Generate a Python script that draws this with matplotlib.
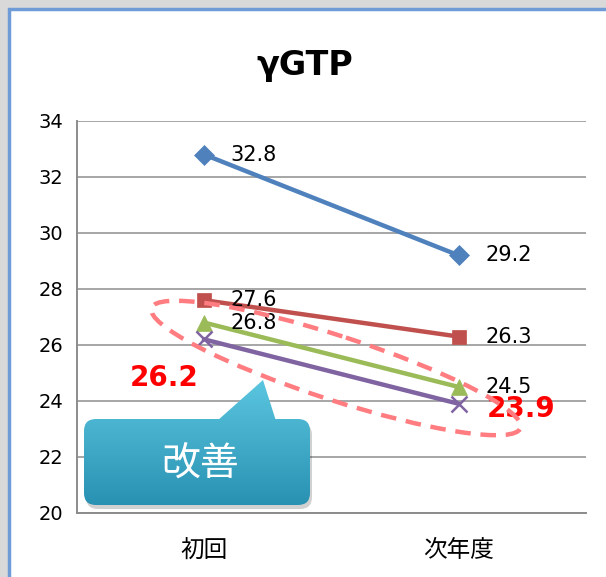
import matplotlib

matplotlib.use("Agg")

import matplotlib.pyplot as plt
import numpy as np
from matplotlib.patches import Ellipse, FancyBboxPatch, PathPatch, Rectangle
from matplotlib.path import Path

plt.rcParams["font.family"] = ["DejaVu Sans", "Noto Sans CJK JP"]

categories = ["初回", "次年度"]
series_a = [32.8, 29.2]
series_b = [27.6, 26.3]
series_c = [26.8, 24.5]
series_d = [26.2, 23.9]
y_ticks = [20, 22, 24, 26, 28, 30, 32, 34]
title = "γGTP"
callout_text = "改善"

W, H = 606, 577
fig = plt.figure(figsize=(W / 100, H / 100), dpi=100, facecolor="#d9d9d9")

# chart frame (white panel with blue border)
frame = Rectangle((9 / W, -0.1), 1.2, (H - 9) / H + 0.1, transform=fig.transFigure,
                  facecolor="white", edgecolor="#6f9bd6", linewidth=2.5, zorder=-5)
fig.patches.append(frame)

ax = fig.add_axes([77 / W, 1 - 513 / H, (586 - 77) / W, (513 - 121) / H])
ax.set_facecolor("none")
x = np.arange(len(categories))

styles = [
    (series_a, "#4f81bd", "D", 10),
    (series_b, "#c0504d", "s", 10),
    (series_c, "#9bbb59", "^", 11),
    (series_d, "#8064a2", "x", 11),
]
for vals, color, marker, ms in styles:
    ax.plot(x, vals, color=color, linewidth=3.2, marker=marker, markersize=ms,
            markeredgewidth=1.8 if marker == "x" else 0.5, markeredgecolor=color, zorder=3)

# plain data labels
for vals in (series_a, series_b, series_c):
    for xi, v in zip(x, vals):
        ax.annotate(f"{v}", (xi, v), xytext=(19, 0), textcoords="offset points",
                    ha="left", va="center", fontsize=15, color="black", zorder=4)

# highlighted labels
ax.annotate(f"{series_d[0]}", (x[0], series_d[0]), xytext=(-29, -28), textcoords="offset points",
            ha="center", va="center", fontsize=20, fontweight="bold", color="red", zorder=6)
ax.annotate(f"{series_d[1]}", (x[1], series_d[1]), xytext=(45, -4), textcoords="offset points",
            ha="center", va="center", fontsize=20, fontweight="bold", color="red", zorder=6)

ax.set_xlim(-0.5, 1.5)
ax.set_ylim(20, 34)
ax.set_xticks(x)
ax.set_yticks(y_ticks)
ax.tick_params(axis="y", length=0, labelsize=14, pad=10)
ax.tick_params(axis="x", length=0, labelsize=17, pad=19)
ax.set_xticklabels(categories, family=["Noto Sans CJK JP", "DejaVu Sans"])
ax.yaxis.grid(True, color="#a6a6a6", linewidth=1.4)
ax.set_axisbelow(True)
for side in ("top", "right"):
    ax.spines[side].set_visible(False)
for side in ("left", "bottom"):
    ax.spines[side].set_color("#8c8c8c")
    ax.spines[side].set_linewidth(1.4)

fig.text(305 / W, 1 - 65 / H, title, ha="center", va="center", fontsize=24, fontweight="bold")

# overlay in pixel coordinates for the drawn shapes
ov = fig.add_axes([0, 0, 1, 1], facecolor="none")
ov.set_xlim(0, W)
ov.set_ylim(H, 0)
ov.axis("off")

ov.add_patch(Ellipse((336, 368), 388, 64, angle=18, fill=False, edgecolor="#ff7c80",
                     linewidth=3.2, linestyle=(0, (3.5, 2.2)), zorder=2))

# callout shape: rounded box + pointer
box = FancyBboxPatch((84, 419), 226, 86, boxstyle="round,pad=0,rounding_size=12")
ov.add_patch(FancyBboxPatch((86, 423), 226, 86, boxstyle="round,pad=0,rounding_size=12",
                            facecolor="#000000", alpha=0.18, edgecolor="none", zorder=3))
clip = Path.make_compound_path(
    box.get_path().transformed(box.get_patch_transform()),
    Path([(217, 421), (263, 380), (276, 421), (217, 421)], closed=True),
)
grad = np.linspace(0, 1, 128).reshape(-1, 1)
top = np.array([0.36, 0.78, 0.88])
bot = np.array([0.16, 0.57, 0.70])
img = top + (bot - top) * grad[..., None]
im = ov.imshow(img, extent=(80, 315, 505, 378), aspect="auto", zorder=4, interpolation="bilinear")
clip_patch = PathPatch(clip, facecolor="none", edgecolor="none")
ov.add_patch(clip_patch)
im.set_clip_path(clip_patch)
ov.set_xlim(0, W)
ov.set_ylim(H, 0)
ov.text(200, 465, callout_text, ha="center", va="center", fontsize=28, color="white",
        family=["Noto Sans CJK JP", "DejaVu Sans"], zorder=5)

fig.savefig("out.png", dpi=100, facecolor=fig.get_facecolor())
